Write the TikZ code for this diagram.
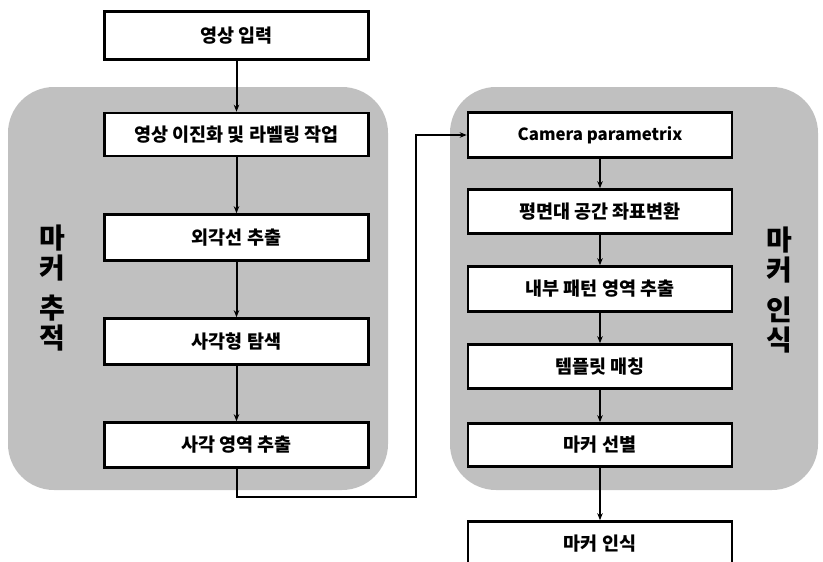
\documentclass[tikz,border=0pt]{standalone}
\usepackage{fontspec}
\newfontfamily\kr{Noto Sans CJK KR}
\usetikzlibrary{arrows.meta}
\definecolor{panel}{RGB}{192,192,192}
\tikzset{
  stepbox/.style={draw, line width=2.6pt, fill=white, minimum width=264pt, inner sep=0pt,
    font=\kr\bfseries\fontsize{18.5}{21}\selectfont},
  latinbox/.style={stepbox, font=\kr\bfseries\fontsize{16.8}{20}\selectfont},
  arr/.style={line width=2pt, -{Stealth[length=7pt,width=5.5pt]}},
  lbl/.style={inner sep=0pt, font=\kr\bfseries\fontsize{28}{30}\selectfont},
  panelbox/.style={fill=panel, rounded corners=46pt}
}
\begin{document}
\begin{tikzpicture}[x=1pt,y=-1pt]
\useasboundingbox (0,0) rectangle (823,562);
\clip (0,0) rectangle (823,562);
\fill[white] (0,0) rectangle (823,562);
% panels
\path[panelbox] (8,87) rectangle (388,490);
\path[panelbox] (450,87) rectangle (818,490);
% left column
\node[stepbox, minimum height=48pt] (a0) at (236.5,35.5) {영상 입력};
\node[stepbox, minimum height=43pt] (a1) at (236.5,134.5) {영상 이진화 및 라벨링 작업};
\node[stepbox, minimum height=46pt] (a2) at (236.5,237.5) {외각선 추출};
\node[stepbox, minimum height=46pt] (a3) at (236.5,341.5) {사각형 탐색};
\node[stepbox, minimum height=45pt] (a4) at (236.5,445) {사각 영역 추출};
% right column
\node[latinbox, minimum height=45pt] (b1) at (600,135) {Camera parametrix};
\node[stepbox, minimum height=44pt] (b2) at (600,211.5) {평면대 공간 좌표변환};
\node[stepbox, minimum height=45pt] (b3) at (600,289) {내부 패턴 영역 추출};
\node[stepbox, minimum height=44pt] (b4) at (600,366.5) {템플릿 매칭};
\node[stepbox, minimum height=43pt] (b5) at (600,445) {마커 선별};
\node[stepbox, minimum height=45pt] (b6) at (600,544) {마커 인식};
% connectors
\draw[arr] (a0) -- (a1);
\draw[arr] (a1) -- (a2);
\draw[arr] (a2) -- (a3);
\draw[arr] (a3) -- (a4);
\coordinate (k1) at (416,497);
\draw[arr] (a4.south) |- (k1) |- (b1.west);
\draw[arr] (b1) -- (b2);
\draw[arr] (b2) -- (b3);
\draw[arr] (b3) -- (b4);
\draw[arr] (b4) -- (b5);
\draw[arr] (b5) -- (b6);
% side labels
\node[lbl] (l1) at (52,238) {마};
\node[lbl] (l2) at (52,268) {커};
\node[lbl] (l3) at (52,308) {추};
\node[lbl] (l4) at (52,338) {적};
\node[lbl] (r1) at (779,240) {마};
\node[lbl] (r2) at (779,270) {커};
\node[lbl] (r3) at (779,310) {인};
\node[lbl] (r4) at (779,340) {식};
\end{tikzpicture}
\end{document}
